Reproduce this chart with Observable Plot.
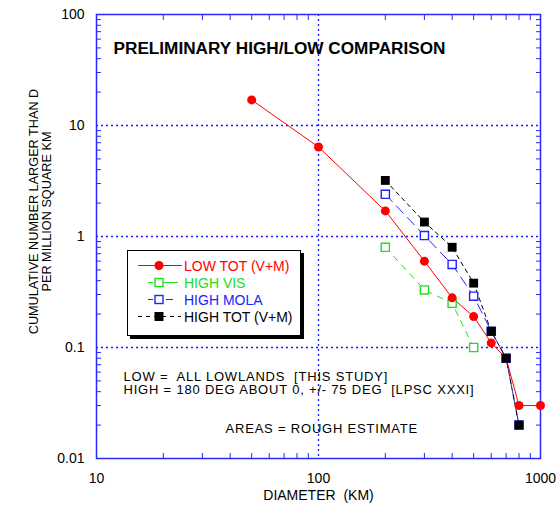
<!DOCTYPE html>
<html>
<head>
<meta charset="utf-8">
<script src="https://cdn.jsdelivr.net/npm/d3@7"></script>
<script src="https://cdn.jsdelivr.net/npm/@observablehq/plot@0.6"></script>
<style>
  body { margin: 0; background: white; }
  #wrap { position: relative; width: 560px; height: 508px; font-family: "Liberation Sans", Arial, sans-serif; }
  #legend { position: absolute; left: 127px; top: 250px; width: 172px; height: 84px; border: 1px solid black; box-shadow: 3px 3px 0 #000; background: white; }
  .row { position: absolute; left: 9px; height: 17px; display: flex; align-items: center; font-size: 14px; white-space: pre; }
  .row svg { width: 46px; height: 17px; margin-right: 1px; }
  .note text { letter-spacing: 0.8px; white-space: pre; }
  .pre text { white-space: pre; }
</style>
</head>
<body>
<div id="wrap"></div>
<script>
// Data
const lowD = [50, 100, 200, 300, 400, 500, 600, 700, 800, 1000];
const lowN = [17, 6.4, 1.7, 0.6, 0.28, 0.19, 0.11, 0.08, 0.03, 0.03];
const visD = [200, 300, 400, 500];
const visN = [0.8, 0.33, 0.25, 0.1];
const molaD = [200, 300, 400, 500, 600, 700, 800];
const molaN = [2.4, 1.02, 0.56, 0.29, 0.14, 0.08, 0.02];
const totD = [200, 300, 400, 500, 600, 700, 800];
const totN = [3.2, 1.35, 0.8, 0.38, 0.14, 0.08, 0.02];

const xMajor = [10, 100, 1000];
const yMajor = [0.01, 0.1, 1, 10, 100];
const xMinor = [20, 30, 40, 50, 60, 70, 80, 90, 200, 300, 400, 500, 600, 700, 800, 900];
const yMinor = [0.02, 0.03, 0.04, 0.05, 0.06, 0.07, 0.08, 0.09, 0.2, 0.3, 0.4, 0.5, 0.6, 0.7, 0.8, 0.9,
                2, 3, 4, 5, 6, 7, 8, 9, 20, 30, 40, 50, 60, 70, 80, 90];

const title = "PRELIMINARY HIGH/LOW COMPARISON";
const noteLow = "LOW =  ALL LOWLANDS  [THIS STUDY]";
const noteHigh = "HIGH = 180 DEG ABOUT 0, +/- 75 DEG  [LPSC XXXI]";
const noteArea = "AREAS = ROUGH ESTIMATE";
const xLabel = "DIAMETER  (KM)";
const yLabel1 = "CUMULATIVE NUMBER LARGER THAN D";
const yLabel2 = "PER MILLION SQUARE KM";

const series = [
  {name: "LOW TOT (V+M)", color: "#ff0000", d: lowD, n: lowN},
  {name: "HIGH VIS", color: "#22dd22", d: visD, n: visN},
  {name: "HIGH MOLA", color: "#2222ff", d: molaD, n: molaN},
  {name: "HIGH TOT (V+M)", color: "#000000", d: totD, n: totN}
];
const rows = s => s.d.map((d, i) => ({d, n: s.n[i]}));
const low = rows(series[0]), vis = rows(series[1]), mola = rows(series[2]), tot = rows(series[3]);

const FRAME = "#2828ff";
const tickOpts = {tickSize: 5, fill: "none", stroke: FRAME, label: null};

const chart = Plot.plot({
  width: 560, height: 508,
  marginLeft: 96, marginRight: 20, marginTop: 14, marginBottom: 50,
  x: {type: "log", domain: [10, 1000]},
  y: {type: "log", domain: [0.01, 100]},
  style: {fontFamily: "'Liberation Sans', Arial, sans-serif", fontSize: "14px", color: "black", background: "white", overflow: "visible"},
  marks: [
    Plot.gridX([100], {stroke: "#1a1aff", strokeOpacity: 1, strokeWidth: 1.3, strokeDasharray: "2,3"}),
    Plot.gridY([0.1, 1, 10], {stroke: "#1a1aff", strokeOpacity: 1, strokeWidth: 1.3, strokeDasharray: "2,3"}),
    Plot.axisX(xMinor, {anchor: "bottom", dy: -5, ...tickOpts}),
    Plot.axisX(xMinor, {anchor: "top", dy: 5, ...tickOpts}),
    Plot.axisY(yMinor, {anchor: "left", dx: 5, ...tickOpts}),
    Plot.axisY(yMinor, {anchor: "right", dx: -5, ...tickOpts}),
    Plot.axisX(xMajor, {anchor: "bottom", tickSize: 0, tickPadding: 15, tickFormat: d => String(d), label: null, fontSize: 14}),
    Plot.axisY(yMajor, {anchor: "left", tickSize: 0, tickPadding: 12, tickFormat: d => String(d), label: null, fontSize: 14}),
    Plot.frame({stroke: FRAME, strokeWidth: 1.5}),
    Plot.text([title], {frameAnchor: "top-left", dx: 17, dy: 27, textAnchor: "start", fontWeight: "bold", fontSize: 17.2}),
    Plot.text([noteLow], {frameAnchor: "top-left", dx: 27, dy: 357, textAnchor: "start", fontSize: 13, className: "note"}),
    Plot.text([noteHigh], {frameAnchor: "top-left", dx: 27, dy: 370.5, textAnchor: "start", fontSize: 13, className: "note"}),
    Plot.text([noteArea], {frameAnchor: "top-left", dx: 129, dy: 409, textAnchor: "start", fontSize: 13, className: "note"}),
    Plot.text([xLabel], {frameAnchor: "bottom", dy: 41, fontSize: 14, className: "pre"}),
    Plot.text([yLabel1], {frameAnchor: "left", dx: -63, dy: -25, rotate: -90, textAnchor: "middle", fontSize: 12.7}),
    Plot.text([yLabel2], {frameAnchor: "left", dx: -50, dy: -25, rotate: -90, textAnchor: "middle", fontSize: 12.7}),
    // lines
    Plot.line(vis, {x: "d", y: "n", stroke: series[1].color, strokeWidth: 1, strokeDasharray: "6,6"}),
    Plot.line(mola, {x: "d", y: "n", stroke: series[2].color, strokeWidth: 1, strokeDasharray: "10,6"}),
    Plot.line(tot, {x: "d", y: "n", stroke: series[3].color, strokeWidth: 1, strokeDasharray: "4,4"}),
    Plot.line(low, {x: "d", y: "n", stroke: series[0].color, strokeWidth: 1}),
    // markers
    Plot.dot(vis, {x: "d", y: "n", symbol: "square", r: 4.6, fill: "white", stroke: series[1].color, strokeWidth: 1.4}),
    Plot.dot(mola, {x: "d", y: "n", symbol: "square", r: 4.6, fill: "white", stroke: series[2].color, strokeWidth: 1.4}),
    Plot.dot(low, {x: "d", y: "n", r: 4.5, fill: series[0].color, stroke: "none"}),
    Plot.dot(tot, {x: "d", y: "n", symbol: "square", r: 5, fill: series[3].color, stroke: "none"})
  ]
});

const wrap = document.getElementById("wrap");
wrap.appendChild(chart);

// Legend (HTML overlay)
const legend = document.createElement("div");
legend.id = "legend";
const samples = [
  `<line x1="1" x2="45" y1="8.5" y2="8.5" stroke="${series[0].color}"/><circle cx="22" cy="8.5" r="4.5" fill="${series[0].color}"/>`,
  `<line x1="11" x2="16" y1="8.5" y2="8.5" stroke="${series[1].color}"/><line x1="27" x2="41" y1="8.5" y2="8.5" stroke="${series[1].color}"/><rect x="18" y="4.5" width="8" height="8" fill="white" stroke="${series[1].color}" stroke-width="1.4"/>`,
  `<line x1="11" x2="16" y1="8.5" y2="8.5" stroke="${series[2].color}"/><line x1="29" x2="36" y1="8.5" y2="8.5" stroke="${series[2].color}"/><rect x="18" y="4.5" width="8" height="8" fill="white" stroke="${series[2].color}" stroke-width="1.4"/>`,
  `<line x1="1" x2="44" y1="8.5" y2="8.5" stroke="${series[3].color}" stroke-dasharray="4,4"/><rect x="17.5" y="4" width="9" height="9" fill="${series[3].color}"/>`
];
series.forEach((s, i) => {
  const r = document.createElement("div");
  r.className = "row";
  r.style.top = (6 + i * 17) + "px";
  r.style.color = s.color;
  r.innerHTML = `<svg viewBox="0 0 46 17">${samples[i]}</svg><span>${s.name}</span>`;
  legend.appendChild(r);
});
wrap.appendChild(legend);
</script>
</body>
</html>
